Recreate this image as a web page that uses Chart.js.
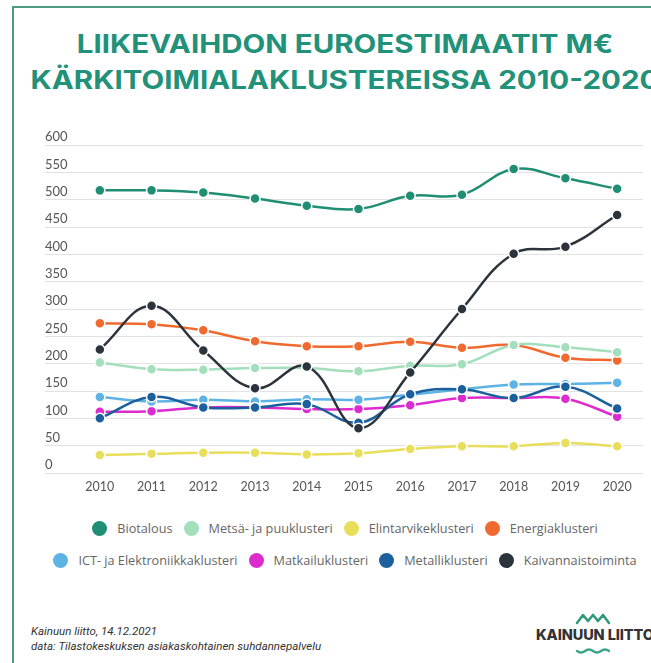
<!DOCTYPE html>
<html>
<head>
<meta charset="utf-8">
<script src="https://cdn.jsdelivr.net/npm/chart.js@4"></script>
<style>
html,body{margin:0;padding:0;width:651px;height:663px;overflow:hidden;background:#fff;}
#frame{position:absolute;left:12px;top:6px;width:700px;height:700px;border-left:2px solid #4f9a83;border-top:2px solid #4f9a83;}
#title{position:absolute;left:0;width:690px;top:26px;text-align:center;font-family:Inter,'Open Sans',sans-serif;font-weight:700;font-size:25px;line-height:36px;color:#22917a;white-space:nowrap;transform:scaleX(1.18);transform-origin:345px 0;}
#wrap{position:absolute;left:0;top:110px;width:651px;height:390px;}
#legend{position:absolute;left:0;width:690px;top:512px;font-family:'Open Sans',sans-serif;font-size:12.7px;color:#666;}
.row{display:flex;justify-content:center;align-items:center;height:32px;white-space:nowrap;}
.item{display:flex;align-items:center;margin:0 5.5px;}
.dot{width:15px;height:15px;border-radius:50%;margin-right:10px;flex:none;}
#foot{position:absolute;left:31px;top:624px;font-family:Roboto,sans-serif;font-style:italic;font-size:11.5px;line-height:15px;color:#333;}
#logo{position:absolute;left:536px;top:606px;width:130px;height:57px;}
#logo .txt{position:absolute;left:0;top:21px;font-family:Inter,sans-serif;font-weight:800;font-size:14.5px;line-height:16px;color:#333;letter-spacing:-0.1px;white-space:nowrap;}
#logo svg{position:absolute;left:0;top:0;}
</style>
</head>
<body>
<div id="frame"></div>
<div id="title">LIIKEVAIHDON EUROESTIMAATIT M€<br>KÄRKITOIMIALAKLUSTEREISSA 2010-2020</div>
<div id="wrap"><canvas id="c" width="651" height="390"></canvas></div>
<div id="legend"></div>
<div id="foot">Kainuun liitto, 14.12.2021<br>data: Tilastokeskuksen asiakaskohtainen suhdannepalvelu</div>
<div id="logo">
<svg width="130" height="57" viewBox="0 0 130 57">
<polyline points="41,17 47,9 52,15 57,9 62,15 67,9 73,17" fill="none" stroke="#2f9a7e" stroke-width="2.6" stroke-linejoin="round" stroke-linecap="round"/>
<path d="M41,45 q4,3 8,0 t8,0 t8,0 t8,0" fill="none" stroke="#3aa58a" stroke-width="2.4" stroke-linecap="round"/>
</svg>
<div class="txt">KAINUUN LIITTO</div>
</div>
<script>
const years = [2010, 2011, 2012, 2013, 2014, 2015, 2016, 2017, 2018, 2019, 2020];
const yTickValues = [0, 50, 100, 150, 200, 250, 300, 350, 400, 450, 500, 550, 600];

const seriesNames = ["Biotalous", "Metsä- ja puuklusteri", "Elintarvikeklusteri", "Energiaklusteri",
  "ICT- ja Elektroniikkaklusteri", "Matkailuklusteri", "Metalliklusteri", "Kaivannaistoiminta"];

const biotalous   = [517, 517, 513, 502, 489, 483, 507, 509, 556, 539, 520];
const metsa       = [202, 190, 189, 192, 192, 186, 196, 199, 234, 230, 221];
const elintarvike = [33, 35, 37, 37, 34, 36, 44, 49, 49, 55, 49];
const energia     = [274, 272, 261, 241, 232, 232, 240, 229, 234, 211, 206];
const ict         = [139, 131, 134, 131, 135, 134, 143, 153, 162, 163, 165];
const matkailu    = [112, 113, 120, 120, 117, 117, 124, 137, 137, 136, 103];
const metalli     = [100, 139, 120, 120, 126, 92, 144, 153, 137, 158, 118];
const kaivannais  = [226, 306, 224, 155, 195, 82, 184, 300, 401, 414, 472];

const seriesValues = [biotalous, metsa, elintarvike, energia, ict, matkailu, metalli, kaivannais];
const seriesColors = ["#1f8e74", "#a3dfbc", "#e8de5c", "#f0692f", "#5db3e3", "#de2bcf", "#1b5f9c", "#2b343c"];
const seriesOrder  = [2, 2, 3, 2, 2, 2, 1, 0];

const datasets = seriesNames.map((name, i) => ({
  label: name,
  data: years.map((yr, j) => ({x: yr, y: seriesValues[i][j]})),
  borderColor: seriesColors[i],
  backgroundColor: seriesColors[i],
  pointBackgroundColor: seriesColors[i],
  pointBorderColor: "#ffffff",
  pointBorderWidth: 1.5,
  pointRadius: 5,
  borderWidth: 2.5,
  tension: 0.4,
  fill: false,
  order: seriesOrder[i]
}));

const chart = new Chart(document.getElementById("c"), {
  type: "line",
  data: {datasets},
  options: {
    responsive: false,
    animation: false,
    devicePixelRatio: 1,
    layout: {padding: {left: 45, right: 8, top: 35, bottom: 0}},
    plugins: {legend: {display: false}, tooltip: {enabled: false}},
    scales: {
      x: {
        type: "linear",
        min: 2008.94,
        max: 2020.5,
        afterBuildTicks: s => { s.ticks = years.map(v => ({value: v})); },
        grid: {display: false, drawTicks: false},
        border: {display: false},
        ticks: {padding: 6, color: "#555", font: {family: "Lato", size: 12.5}, callback: v => String(v)}
      },
      y: {
        min: 0,
        max: 600,
        afterBuildTicks: s => { s.ticks = yTickValues.map(v => ({value: v})); },
        grid: {color: "#e2e2e2", lineWidth: 1, drawTicks: false},
        border: {display: false},
        ticks: {mirror: true, padding: 0, labelOffset: -8, color: "#555", font: {family: "Lato", size: 13}, callback: v => String(v)}
      }
    }
  }
});

// HTML legend built from the chart datasets, two rows of four
const legendEl = document.getElementById("legend");
const ds = chart.data.datasets;
[ds.slice(0, 4), ds.slice(4, 8)].forEach(rowSets => {
  const row = document.createElement("div");
  row.className = "row";
  rowSets.forEach(d => {
    const it = document.createElement("div");
    it.className = "item";
    const dot = document.createElement("span");
    dot.className = "dot";
    dot.style.background = d.borderColor;
    const t = document.createElement("span");
    t.textContent = d.label;
    it.appendChild(dot); it.appendChild(t);
    row.appendChild(it);
  });
  legendEl.appendChild(row);
});
</script>
</body>
</html>
